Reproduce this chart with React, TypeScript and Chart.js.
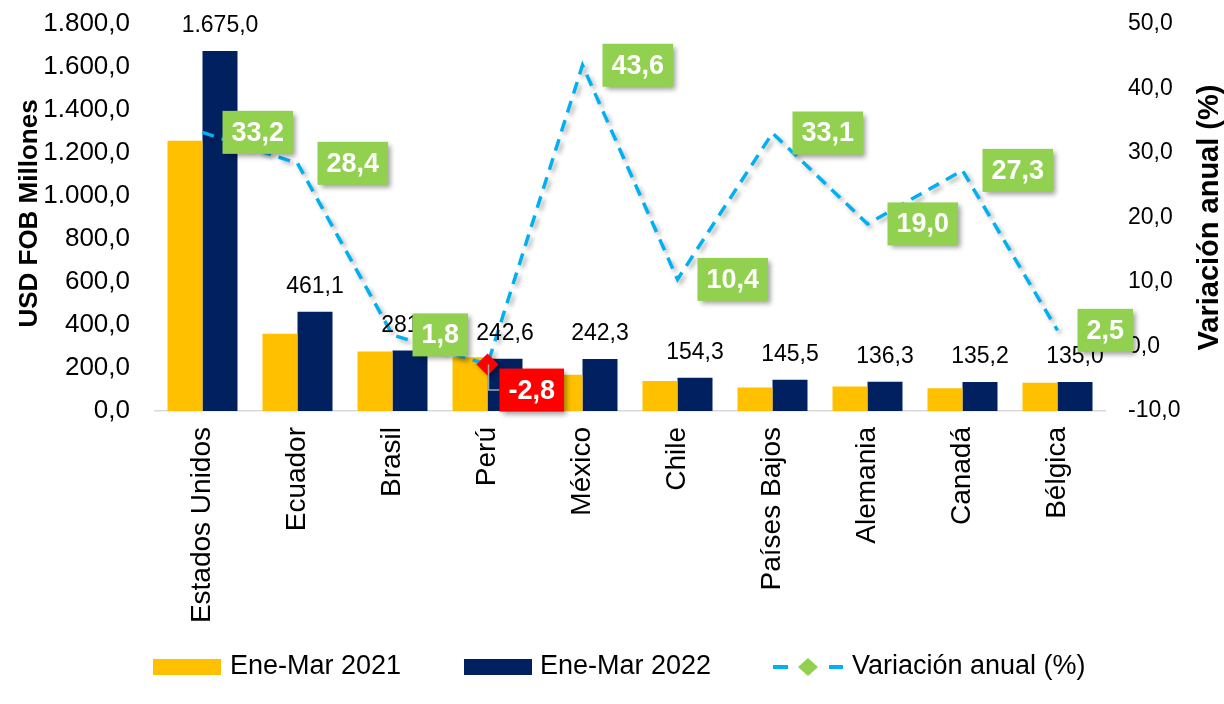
import React, { useEffect, useRef } from 'react';
import { Chart, registerables } from 'chart.js';

Chart.register(...registerables);

const categories = ['Estados Unidos', 'Ecuador', 'Brasil', 'Perú', 'México', 'Chile', 'Países Bajos', 'Alemania', 'Canadá', 'Bélgica'];
const values2021 = [1257.5, 359.1, 276.6, 249.6, 168.7, 139.8, 109.3, 114.5, 106.2, 131.7];
const values2022 = [1675.0, 461.1, 281.6, 242.6, 242.3, 154.3, 145.5, 136.3, 135.2, 135.0];
const variation = [33.2, 28.4, 1.8, -2.8, 43.6, 10.4, 33.1, 19.0, 27.3, 2.5];
const seriesNames = ['Ene-Mar 2021', 'Ene-Mar 2022', 'Variación anual (%)'];
const leftAxis = { min: 0, max: 1800, step: 200, title: 'USD FOB Millones' };
const rightAxis = { min: -10, max: 50, step: 10, title: 'Variación anual (%)' };

const FONT = '"Liberation Sans", Arial, sans-serif';
const C_2021 = '#FFC000';
const C_2022 = '#002060';
const C_LINE = '#00B0F0';
const C_LABEL = '#92D050';
const C_NEG = '#FF0000';

function fmt(v: number): string {
  const s = Math.abs(v).toFixed(1);
  const [i, d] = s.split('.');
  const ii = i.replace(/\B(?=(\d{3})+(?!\d))/g, '.');
  return (v < 0 ? '-' : '') + ii + ',' + d;
}

function setShadow(ctx: CanvasRenderingContext2D) {
  ctx.shadowColor = 'rgba(0,0,0,0.38)';
  ctx.shadowBlur = 5;
  ctx.shadowOffsetX = 3;
  ctx.shadowOffsetY = 3;
}

const overlayPlugin = {
  id: 'overlay',
  beforeDatasetDraw(chart: any, args: any) {
    if (args.index === 2) {
      const ctx = chart.ctx;
      ctx.save();
      ctx.shadowColor = 'rgba(0,0,0,0.3)';
      ctx.shadowBlur = 4;
      ctx.shadowOffsetX = 3;
      ctx.shadowOffsetY = 3;
    }
  },
  afterDatasetDraw(chart: any, args: any) {
    if (args.index === 2) chart.ctx.restore();
  },
  afterDatasetsDraw(chart: any) {
    const ctx: CanvasRenderingContext2D = chart.ctx;
    const barMeta = chart.getDatasetMeta(1);
    const barData = chart.data.datasets[1].data as number[];
    ctx.save();
    ctx.font = `23px ${FONT}`;
    ctx.fillStyle = '#000';
    ctx.textAlign = 'center';
    ctx.textBaseline = 'middle';
    barMeta.data.forEach((bar: any, i: number) => {
      ctx.fillText(fmt(barData[i]), bar.x, bar.y - 25);
    });
    ctx.restore();

    const lineMeta = chart.getDatasetMeta(2);
    const lineData = chart.data.datasets[2].data as number[];
    lineMeta.data.forEach((pt: any, i: number) => {
      const v = lineData[i];
      const text = fmt(v);
      ctx.save();
      ctx.font = `bold 27px ${FONT}`;
      const tw = ctx.measureText(text).width;
      const w = tw + 18;
      const h = 43;
      let bx: number, by: number;
      if (v < 0) {
        bx = pt.x + 12;
        by = pt.y + 4;
        ctx.strokeStyle = '#A6A6A6';
        ctx.lineWidth = 1.5;
        ctx.beginPath();
        ctx.moveTo(pt.x + 1, pt.y);
        ctx.lineTo(pt.x + 1, by + h / 2);
        ctx.lineTo(bx, by + h / 2);
        ctx.stroke();
      } else {
        bx = pt.x + 20;
        by = pt.y - h / 2;
      }
      setShadow(ctx);
      ctx.fillStyle = v < 0 ? C_NEG : C_LABEL;
      ctx.fillRect(bx, by, w, h);
      ctx.shadowColor = 'transparent';
      ctx.fillStyle = '#fff';
      ctx.textAlign = 'center';
      ctx.textBaseline = 'middle';
      ctx.fillText(text, bx + w / 2, by + h / 2 + 1);
      ctx.restore();
    });
  },
  afterDraw(chart: any) {
    const ctx: CanvasRenderingContext2D = chart.ctx;
    const area = chart.chartArea;
    ctx.save();
    ctx.fillStyle = '#000';
    ctx.font = `bold 26px ${FONT}`;
    ctx.textAlign = 'center';
    ctx.textBaseline = 'alphabetic';
    ctx.save();
    ctx.translate(37, (area.top + area.bottom) / 2 - 4);
    ctx.rotate(-Math.PI / 2);
    ctx.fillText(leftAxis.title, 0, 0);
    ctx.restore();
    ctx.font = `bold 29px ${FONT}`;
    ctx.save();
    ctx.translate(1218, (area.top + area.bottom) / 2);
    ctx.rotate(-Math.PI / 2);
    ctx.fillText(rightAxis.title, 0, 0);
    ctx.restore();

    const ly = 667;
    ctx.font = `27px ${FONT}`;
    ctx.textAlign = 'left';
    ctx.textBaseline = 'middle';
    ctx.fillStyle = C_2021;
    ctx.fillRect(153, 659, 68, 16);
    ctx.fillStyle = '#000';
    ctx.fillText(seriesNames[0], 230, ly);
    ctx.fillStyle = C_2022;
    ctx.fillRect(464, 659, 68, 16);
    ctx.fillStyle = '#000';
    ctx.fillText(seriesNames[1], 540, ly);
    ctx.strokeStyle = C_LINE;
    ctx.lineWidth = 4;
    ctx.beginPath();
    ctx.moveTo(773, ly);
    ctx.lineTo(788, ly);
    ctx.moveTo(829, ly);
    ctx.lineTo(843, ly);
    ctx.stroke();
    ctx.fillStyle = C_LABEL;
    ctx.beginPath();
    ctx.moveTo(808, ly - 9);
    ctx.lineTo(818, ly);
    ctx.lineTo(808, ly + 9);
    ctx.lineTo(798, ly);
    ctx.closePath();
    ctx.fill();
    ctx.fillStyle = '#000';
    ctx.fillText(seriesNames[2], 852, ly);
    ctx.restore();
  },
};

export default function App() {
  const ref = useRef<HTMLCanvasElement | null>(null);
  useEffect(() => {
    if (!ref.current) return;
    const chart = new Chart(ref.current, {
      type: 'bar',
      data: {
        labels: categories,
        datasets: [
          {
            type: 'bar',
            label: seriesNames[0],
            data: values2021,
            backgroundColor: C_2021,
            yAxisID: 'y',
            categoryPercentage: 0.737,
            barPercentage: 1.0,
            order: 1,
          },
          {
            type: 'bar',
            label: seriesNames[1],
            data: values2022,
            backgroundColor: C_2022,
            yAxisID: 'y',
            categoryPercentage: 0.737,
            barPercentage: 1.0,
            order: 1,
          },
          {
            type: 'line',
            label: seriesNames[2],
            data: variation,
            yAxisID: 'y1',
            borderColor: C_LINE,
            borderWidth: 3.5,
            borderDash: [12, 8],
            tension: 0,
            fill: false,
            pointStyle: 'rectRot',
            pointRadius: (c: any) => (c.raw < 0 ? 11 : 0),
            pointHoverRadius: 0,
            pointBackgroundColor: C_NEG,
            pointBorderWidth: 0,
            order: 0,
          } as any,
        ],
      },
      options: {
        responsive: false,
        animation: false,
        layout: { autoPadding: false, padding: { top: 24, left: 0, right: 0, bottom: 0 } },
        plugins: {
          legend: { display: false },
          tooltip: { enabled: false },
        },
        scales: {
          x: {
            offset: true,
            grid: { display: false, drawTicks: false },
            border: { display: true, color: '#D9D9D9', width: 1.5 },
            ticks: {
              autoSkip: false,
              minRotation: 90,
              maxRotation: 90,
              padding: 16,
              color: '#000',
              font: { family: FONT, size: 28 },
            },
            afterFit: (s: any) => {
              s.height = 293;
              s.paddingLeft = 0;
              s.paddingRight = 0;
            },
          },
          y: {
            position: 'left',
            min: leftAxis.min,
            max: leftAxis.max,
            grid: { display: false, drawTicks: false },
            border: { display: false },
            ticks: {
              stepSize: leftAxis.step,
              padding: 25,
              color: '#000',
              font: { family: FONT, size: 26 },
              callback: (v: any) => fmt(Number(v)),
            },
            afterFit: (s: any) => {
              s.width = 155;
              s.paddingTop = 0;
              s.paddingBottom = 0;
            },
          },
          y1: {
            position: 'right',
            min: rightAxis.min,
            max: rightAxis.max,
            grid: { display: false, drawTicks: false },
            border: { display: false },
            ticks: {
              stepSize: rightAxis.step,
              padding: 23,
              color: '#000',
              font: { family: FONT, size: 23 },
              callback: (v: any) => fmt(Number(v)),
            },
            afterFit: (s: any) => {
              s.width = 119;
              s.paddingTop = 0;
              s.paddingBottom = 0;
            },
          },
        },
      } as any,
      plugins: [overlayPlugin],
    });
    return () => chart.destroy();
  }, []);
  return (
    <div style={{ position: 'fixed', left: 0, top: 0, width: 1224, height: 704, background: '#fff' }}>
      <canvas ref={ref} width={1224} height={704} />
    </div>
  );
}
